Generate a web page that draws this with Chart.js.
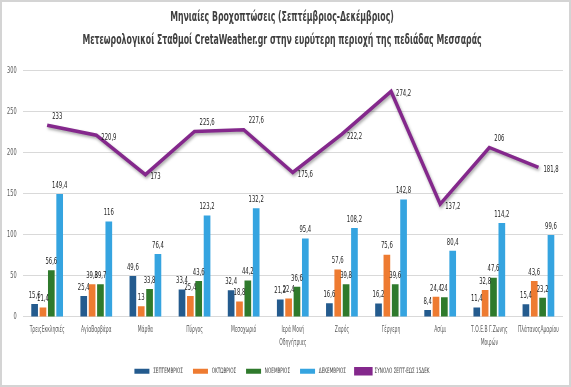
<!DOCTYPE html>
<html><head><meta charset="utf-8">
<script src="https://cdn.jsdelivr.net/npm/chart.js@4.4.1/dist/chart.umd.min.js"></script>
<style>html,body{margin:0;padding:0;background:#fff}</style></head>
<body>
<canvas id="c" width="571" height="387"></canvas>
<script>
const categories = ["ΤρειςΕκκλησιές", "ΑγίαΒαρβάρα", "Μάρθα", "Πύργος", "Μεσοχωριό", ["Ιερά Μονή", "Οδηγήτριας"], "Ζαρός", "Γέργερη", "Ασίμι", ["Τ.Ο.Ε.Β Γ.Ζωνης", "Μοιρών"], "ΠλάτανοςΑμαρίου"];
const september = [15.6, 25.4, 49.6, 33.4, 32.4, 21.2, 16.6, 16.2, 8.4, 11.4, 15.4];
const october   = [11.4, 39.8, 13, 25.4, 18.8, 22.4, 57.6, 75.6, 24.4, 32.8, 43.6];
const november  = [56.6, 39.7, 33.8, 43.6, 44.2, 36.6, 39.8, 39.6, 24, 47.6, 23.2];
const december  = [149.4, 116, 76.4, 123.2, 132.2, 95.4, 108.2, 142.8, 80.4, 114.2, 99.6];
const total     = [233, 220.9, 173, 225.6, 227.6, 175.6, 222.2, 274.2, 137.2, 206, 181.8];
const yTicks = [0, 50, 100, 150, 200, 250, 300];
const seriesNames = ["ΣΕΠΤΕΜΒΡΙΟΣ", "ΟΚΤΩΒΡΙΟΣ", "ΝΟΕΜΒΡΙΟΣ", "ΔΕΚΕΜΒΡΙΟΣ", "ΣΥΝΟΛΟ ΣΕΠΤ-ΕΩΣ 15ΔΕΚ"];
const titleLines = ["Μηνιαίες Βροχοπτώσεις (Σεπτέμβριος-Δεκέμβριος)", "Μετεωρολογικοί Σταθμοί CretaWeather.gr στην ευρύτερη περιοχή της πεδιάδας Μεσσαράς"];

const FONT = "'DejaVu Sans Condensed', 'DejaVu Sans', sans-serif";
const SX = 0.62; // horizontal squeeze to imitate a condensed typeface
const fmt = v => String(v).replace('.', ',');

const canvas = document.getElementById('c');
const ctx0 = canvas.getContext('2d');
const oFill = CanvasRenderingContext2D.prototype.fillText;
const oMeasure = CanvasRenderingContext2D.prototype.measureText;
ctx0.fillText = function (t, x, y) {
  this.save(); this.translate(x, y); this.scale(SX, 1); oFill.call(this, t, 0, 0); this.restore();
};
ctx0.measureText = function (t) {
  const m = oMeasure.call(this, t);
  return {
    width: m.width * SX,
    actualBoundingBoxAscent: m.actualBoundingBoxAscent,
    actualBoundingBoxDescent: m.actualBoundingBoxDescent,
    actualBoundingBoxLeft: m.actualBoundingBoxLeft * SX,
    actualBoundingBoxRight: m.actualBoundingBoxRight * SX,
    fontBoundingBoxAscent: m.fontBoundingBoxAscent,
    fontBoundingBoxDescent: m.fontBoundingBoxDescent
  };
};

const frame = {
  id: 'frame',
  beforeDraw(chart) {
    const ctx = chart.ctx;
    ctx.save();
    ctx.fillStyle = '#fff';
    ctx.fillRect(0, 0, chart.width, chart.height);
    ctx.strokeStyle = '#d4d4d4';
    ctx.lineWidth = 2;
    ctx.strokeRect(1, 1, chart.width - 2, chart.height - 2);
    ctx.restore();
  }
};

const lineShadow = {
  id: 'lineShadow',
  beforeDatasetDraw(chart, args) {
    if (chart.data.datasets[args.index].type === 'line') {
      const ctx = chart.ctx;
      ctx.save();
      ctx.shadowColor = 'rgba(0,0,0,0.35)';
      ctx.shadowBlur = 3;
      ctx.shadowOffsetX = 1;
      ctx.shadowOffsetY = 2;
    }
  },
  afterDatasetDraw(chart, args) {
    if (chart.data.datasets[args.index].type === 'line') chart.ctx.restore();
  }
};

const valueLabels = {
  id: 'valueLabels',
  afterDatasetsDraw(chart) {
    const ctx = chart.ctx;
    ctx.save();
    ctx.fillStyle = '#1e1e1e';
    ctx.font = "9.5px " + FONT;
    chart.data.datasets.forEach((ds, i) => {
      const meta = chart.getDatasetMeta(i);
      if (meta.hidden) return;
      meta.data.forEach((el, j) => {
        const v = ds.data[j];
        if (ds.type === 'line') {
          const above = [0, 3, 4, 9].includes(j);
          ctx.textAlign = 'left';
          ctx.textBaseline = 'middle';
          ctx.fillText(fmt(v), el.x + 5, el.y + (above ? -9 : 2));
        } else {
          ctx.textAlign = 'center';
          ctx.textBaseline = 'bottom';
          ctx.fillText(fmt(v), el.x, el.y - 4);
        }
      });
    });
    ctx.restore();
  }
};

const barColors = ['#245b8e', '#ee7b31', '#2f7a2c', '#35a4e0'];
const barSets = [september, october, november, december].map((d, i) => ({
  type: 'bar',
  label: seriesNames[i],
  data: d,
  backgroundColor: barColors[i],
  barPercentage: 0.8,
  categoryPercentage: 0.68,
  order: 2
}));

new Chart(canvas, {
  data: {
    labels: categories,
    datasets: [...barSets, {
      type: 'line',
      label: seriesNames[4],
      data: total,
      borderColor: '#84288c',
      backgroundColor: '#84288c',
      borderWidth: 3.5,
      pointRadius: 0,
      tension: 0,
      order: 1
    }]
  },
  options: {
    responsive: false,
    animation: false,
    layout: { padding: { top: 4, left: 1, right: 8, bottom: 2 } },
    plugins: {
      title: {
        display: true,
        text: titleLines,
        color: '#404040',
        font: { family: FONT, size: 14, weight: 'bold', lineHeight: 1.65 },
        padding: { top: 2, bottom: 18 }
      },
      legend: {
        position: 'bottom',
        labels: {
          color: '#404040',
          font: { family: FONT, size: 7.5 },
          boxWidth: 15,
          boxHeight: 5,
          padding: 10,
          sort: (a, b) => a.datasetIndex - b.datasetIndex
        }
      },
      tooltip: { enabled: false }
    },
    scales: {
      x: {
        grid: { display: false, drawTicks: false },
        border: { display: false },
        afterFit(axis) { axis.height += 1; },
        ticks: { color: '#595959', font: { family: FONT, size: 8, lineHeight: 1.6 }, maxRotation: 0, autoSkip: false, padding: 7 }
      },
      y: {
        min: 0, max: 300,
        afterBuildTicks(axis) { axis.ticks = yTicks.map(v => ({ value: v })); },
        grid: { color: '#d9d9d9', drawTicks: false },
        border: { display: false },
        ticks: { color: '#595959', font: { family: FONT, size: 9 }, padding: 6 }
      }
    }
  },
  plugins: [frame, lineShadow, valueLabels]
});
</script>
</body></html>
